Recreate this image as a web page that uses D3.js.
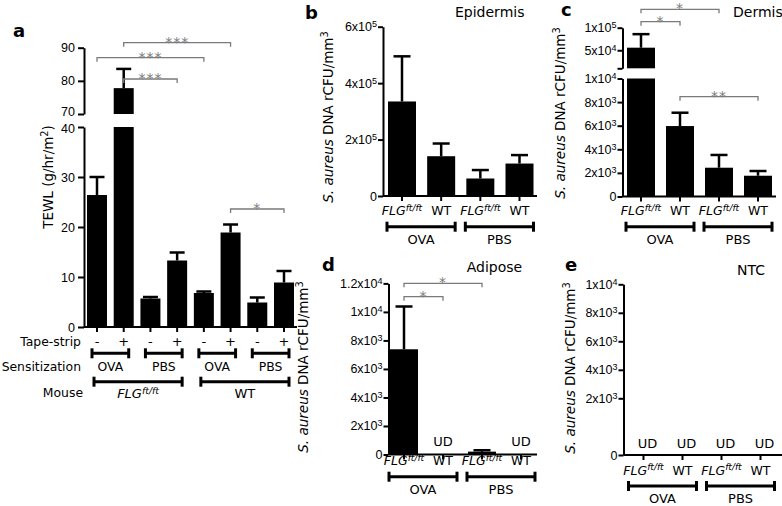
<!DOCTYPE html>
<html lang="en">
<head>
<meta charset="UTF-8">
<title>TEWL and S. aureus DNA</title>
<script src="https://d3js.org/d3.v7.min.js"></script>
<style>
  body { margin: 0; background: #fff; }
  svg { display: block; font-family: "DejaVu Sans", Verdana, sans-serif; }
</style>
</head>
<body>
<svg width="782" height="506"></svg>
<script>
// ---------- data ----------
// panel a : TEWL (g/hr/m2)
var tapeStrip = ["-", "+", "-", "+", "-", "+", "-", "+"];
var sensitization = ["OVA", "PBS", "OVA", "PBS"];
var mouseGroups = ["FLG", "WT"];
var tewlMean = [26.4, 77.8, 5.7, 13.3, 6.8, 18.9, 4.9, 8.9];
var tewlSem = [3.6, 5.8, 0.3, 1.6, 0.3, 1.6, 1.0, 2.3];
var tewlTicksLow = [0, 10, 20, 30, 40];
var tewlTicksHigh = [70, 80, 90];
var tewlSig = [{ a: 1, b: 5, label: "***" }, { a: 0, b: 4, label: "***" },
               { a: 1, b: 3, label: "***" }, { a: 5, b: 7, label: "*" }];

// panels b-e : S. aureus DNA rCFU/mm3
var genotypes = ["FLG", "WT", "FLG", "WT"];
var treatments = ["OVA", "PBS"];
var epidermisMean = [3.35e5, 1.41e5, 0.62e5, 1.15e5];
var epidermisSem = [1.6e5, 0.45e5, 0.3e5, 0.3e5];
var epidermisTicks = [0, 2e5, 4e5, 6e5];
var dermisMean = [5.57e4, 5.97e3, 2.44e3, 1.76e3];
var dermisSem = [3.0e4, 1.13e3, 1.08e3, 0.4e3];
var dermisTicksLow = [0, 2e3, 4e3, 6e3, 8e3, 1e4];
var dermisTicksHigh = [1e4, 5e4, 1e5];
var dermisSig = [{ a: 0, b: 2, label: "*" }, { a: 0, b: 1, label: "*" }, { a: 1, b: 3, label: "**" }];
var adiposeMean = [7.38e3, null, 200, null];   // null = UD
var adiposeSem = [3.0e3, null, 100, null];
var adiposeTicks = [0, 2e3, 4e3, 6e3, 8e3, 1e4, 1.2e4];
var adiposeSig = [{ a: 0, b: 2, label: "*" }, { a: 0, b: 1, label: "*" }];
var ntcMean = [null, null, null, null];
var ntcSem = [null, null, null, null];
var ntcTicks = [0, 2e3, 4e3, 6e3, 8e3, 1e4];

// ---------- helpers ----------
var svg = d3.select("svg");
var sigColor = "#7a7a7a";

function sciTicks(sel, hide) {
  sel.selectAll(".tick text").each(function (d) {
    var t = d3.select(this).text("");
    if (hide && hide.indexOf(d) >= 0) return;
    if (d === 0) { t.text("0"); return; }
    var e = Math.floor(Math.log10(d) + 1e-9);
    var m = +(d / Math.pow(10, e)).toFixed(1);
    t.append("tspan").text(m + "x10");
    t.append("tspan").attr("dy", "-0.45em").attr("font-size", "0.72em").text(e);
  });
}

function styleAxis(sel, fs) {
  sel.selectAll(".domain").attr("stroke", "#000").attr("stroke-width", 2);
  sel.selectAll(".tick line").attr("stroke", "#000").attr("stroke-width", 2);
  sel.selectAll(".tick text").attr("fill", "#000").attr("font-size", fs);
}

function genoLabel(t, name) {
  if (name === "FLG") {
    t.append("tspan").attr("font-style", "italic").text("FLG");
    t.append("tspan").attr("font-style", "italic").attr("font-size", "0.72em")
      .attr("dy", "-0.45em").text("ft/ft");
  } else {
    t.text(name);
  }
}

function groupBracket(g, x1, x2, y) {
  g.append("line").attr("x1", x1).attr("x2", x2).attr("y1", y).attr("y2", y)
    .attr("stroke", "#000").attr("stroke-width", 3);
  [x1, x2].forEach(function (x) {
    g.append("line").attr("x1", x).attr("x2", x).attr("y1", y - 5).attr("y2", y + 5)
      .attr("stroke", "#000").attr("stroke-width", 3);
  });
}

function sigBracket(g, x1, x2, y, label) {
  g.append("path")
    .attr("d", "M" + x1 + "," + (y + 4) + "V" + y + "H" + x2 + "V" + (y + 4))
    .attr("fill", "none").attr("stroke", sigColor).attr("stroke-width", 1.3);
  g.append("text").attr("x", (x1 + x2) / 2).attr("y", y + 4)
    .attr("text-anchor", "middle").attr("font-size", 14).attr("letter-spacing", 1)
    .attr("fill", sigColor).text(label);
}

function yLabel(g, x, y, size) {
  var t = g.append("text").attr("transform", "translate(" + x + "," + y + ") rotate(-90)")
    .attr("text-anchor", "middle").attr("dy", "0.35em").attr("font-size", size);
  t.append("tspan").attr("font-style", "italic").text("S. aureus");
  t.append("tspan").text(" DNA rCFU/mm");
  t.append("tspan").attr("font-size", "0.72em").attr("dy", "-0.5em").text("3");
}

// bars + upward error bars, optional broken axis (yHi above cut)
function drawBars(g, x, yLo, yHi, cut, mean, sem, bw, capW) {
  function yOf(v) { return (yHi && v > cut) ? yHi(v) : yLo(v); }
  mean.forEach(function (m, i) {
    if (m === null) return;
    var cx = x(i);
    if (yHi && m > cut) {
      g.append("rect").attr("x", cx - bw / 2).attr("width", bw)
        .attr("y", yLo(cut)).attr("height", yLo(0) - yLo(cut));
      g.append("rect").attr("x", cx - bw / 2).attr("width", bw)
        .attr("y", yHi(m)).attr("height", yHi.range()[0] - yHi(m));
    } else {
      g.append("rect").attr("x", cx - bw / 2).attr("width", bw)
        .attr("y", yLo(m)).attr("height", yLo(0) - yLo(m));
    }
    var top = yOf(m + sem[i]);
    g.append("line").attr("x1", cx).attr("x2", cx).attr("y1", yOf(m)).attr("y2", top)
      .attr("stroke", "#000").attr("stroke-width", 2.5);
    g.append("line").attr("x1", cx - capW / 2).attr("x2", cx + capW / 2).attr("y1", top).attr("y2", top)
      .attr("stroke", "#000").attr("stroke-width", 2.5);
  });
}

function xAxis(g, x, x0, x1, y, n) {
  g.append("line").attr("x1", x0).attr("x2", x1).attr("y1", y).attr("y2", y)
    .attr("stroke", "#000").attr("stroke-width", 2);
  d3.range(n).forEach(function (i) {
    g.append("line").attr("x1", x(i)).attr("x2", x(i)).attr("y1", y).attr("y2", y + 5)
      .attr("stroke", "#000").attr("stroke-width", 2);
  });
}

// ---------- panel a ----------
(function () {
  var g = svg.append("g");
  var x = d3.scalePoint().domain(d3.range(8)).range([97, 284]);
  var yLo = d3.scaleLinear().domain([0, 40]).range([327, 127]);
  var yHi = d3.scaleLinear().domain([70, 90]).range([114, 47.7]);

  var axLo = g.append("g").attr("transform", "translate(84,0)")
    .call(d3.axisLeft(yLo).tickValues(tewlTicksLow).tickSize(6).tickSizeOuter(0).tickPadding(3));
  var axHi = g.append("g").attr("transform", "translate(84,0)")
    .call(d3.axisLeft(yHi).tickValues(tewlTicksHigh).tickSize(6).tickSizeOuter(0).tickPadding(3));
  styleAxis(axLo, 12.5); styleAxis(axHi, 12.5);
  // labels at the axis break are pushed apart a little so they don't collide
  axLo.selectAll(".tick text").filter(function (d) { return d === 40; }).attr("dy", "0.45em");
  axHi.selectAll(".tick text").filter(function (d) { return d === 70; }).attr("dy", "0.15em");

  drawBars(g.append("g"), x, yLo, yHi, 40, tewlMean, tewlSem, 20, 15);
  xAxis(g, x, 84, 297, 327, 8);

  var sigY = [42.7, 57.7, 79, 209];
  tewlSig.forEach(function (s, i) { sigBracket(g, x(s.a), x(s.b), sigY[i], s.label); });

  g.append("text").attr("x", 13).attr("y", 37).attr("font-size", 18).attr("font-weight", "bold").text("a");

  var t = g.append("text").attr("transform", "translate(48,177) rotate(-90)")
    .attr("text-anchor", "middle").attr("dy", "0.35em").attr("font-size", 13.5);
  t.append("tspan").text("TEWL (g/hr/m");
  t.append("tspan").attr("font-size", "0.72em").attr("dy", "-0.5em").text("2");
  t.append("tspan").attr("dy", "0.36em").text(")");

  var fs = 12.4;
  g.append("text").attr("x", 81).attr("y", 346).attr("text-anchor", "end").attr("font-size", fs).text("Tape-strip");
  g.append("text").attr("x", 81).attr("y", 371).attr("text-anchor", "end").attr("font-size", fs).text("Sensitization");
  g.append("text").attr("x", 83).attr("y", 397).attr("text-anchor", "end").attr("font-size", fs).text("Mouse");

  tapeStrip.forEach(function (s, i) {
    g.append("text").attr("x", x(i)).attr("y", 346).attr("text-anchor", "middle").attr("font-size", 13).text(s);
  });
  sensitization.forEach(function (s, i) {
    var a = x(2 * i) - 5, b = x(2 * i + 1) + 5;
    groupBracket(g, a, b, 353.3);
    g.append("text").attr("x", (a + b) / 2).attr("y", 371).attr("text-anchor", "middle").attr("font-size", fs).text(s);
  });
  mouseGroups.forEach(function (s, i) {
    var a = x(4 * i) - 3, b = x(4 * i + 3) + 5;
    groupBracket(g, a, b, 381.7);
    var t = g.append("text").attr("x", (a + b) / 2).attr("y", 398).attr("text-anchor", "middle").attr("font-size", 13);
    genoLabel(t, s);
  });
})();

// ---------- panels b-e ----------
function drawPanel(c) {
  var g = svg.append("g");
  var x = d3.scalePoint().domain(d3.range(4)).range(c.centers);
  var axLo = g.append("g").attr("transform", "translate(" + c.x0 + ",0)")
    .call(d3.axisLeft(c.yLo).tickValues(c.ticksLo).tickSize(5).tickSizeOuter(0).tickPadding(1));
  styleAxis(axLo, 12.5); sciTicks(axLo);
  if (c.yHi) {
    var axHi = g.append("g").attr("transform", "translate(" + c.x0 + ",0)")
      .call(d3.axisLeft(c.yHi).tickValues(c.ticksHi).tickSize(5).tickSizeOuter(0).tickPadding(1));
    styleAxis(axHi, 12.5); sciTicks(axHi, [c.cut]);
  }
  drawBars(g.append("g"), x, c.yLo, c.yHi, c.cut, c.mean, c.sem, 28, 17);
  xAxis(g, x, c.x0, c.x1, c.yLo(0), 4);

  c.mean.forEach(function (m, i) {
    if (m === null) {
      g.append("text").attr("x", x(i) + c.udDx).attr("y", c.udY).attr("text-anchor", "middle")
        .attr("font-size", 13).text("UD");
    }
  });

  genotypes.forEach(function (s, i) {
    var t = g.append("text").attr("x", x(i)).attr("y", c.catY).attr("text-anchor", "middle").attr("font-size", 12.5);
    genoLabel(t, s);
  });
  treatments.forEach(function (s, i) {
    var a = x(2 * i) - 15, b = x(2 * i + 1) + 14;
    groupBracket(g, a, b, c.grpY);
    g.append("text").attr("x", (a + b) / 2).attr("y", c.grpY + 17).attr("text-anchor", "middle")
      .attr("font-size", 13).text(s);
  });

  (c.sig || []).forEach(function (s, i) {
    sigBracket(g, x(s.a), x(s.b), c.sigY[i], s.label);
  });

  g.append("text").attr("x", c.letter[0]).attr("y", c.letter[1]).attr("font-size", 18)
    .attr("font-weight", "bold").text(c.letterText);
  g.append("text").attr("x", c.title[0]).attr("y", c.title[1]).attr("font-size", 14).text(c.titleText);
  yLabel(g, c.label[0], c.label[1], 13.5);
}

drawPanel({
  x0: 383, x1: 537, centers: [402, 519.5],
  yLo: d3.scaleLinear().domain([0, 6e5]).range([196, 26.7]), ticksLo: epidermisTicks,
  mean: epidermisMean, sem: epidermisSem,
  catY: 215, grpY: 226.7, udY: 0, udDx: 0,
  letter: [305, 18.5], letterText: "b", title: [455, 16.5], titleText: "Epidermis", label: [328, 117]
});

drawPanel({
  x0: 622.5, x1: 776, centers: [641, 758],
  yLo: d3.scaleLinear().domain([0, 1e4]).range([196.5, 78.5]), ticksLo: dermisTicksLow,
  yHi: d3.scaleLinear().domain([1e4, 1e5]).range([68.3, 27.7]), ticksHi: dermisTicksHigh, cut: 1e4,
  mean: dermisMean, sem: dermisSem, sig: dermisSig, sigY: [9.3, 21.7, 96.7],
  catY: 215, grpY: 226.7, udY: 0, udDx: 0,
  letter: [561, 16], letterText: "c", title: [733, 16.5], titleText: "Dermis", label: [560, 113]
});

drawPanel({
  x0: 388.5, x1: 537, centers: [404, 521],
  yLo: d3.scaleLinear().domain([0, 1.2e4]).range([454.5, 283.4]), ticksLo: adiposeTicks,
  mean: adiposeMean, sem: adiposeSem, sig: adiposeSig, sigY: [283.3, 296.7],
  catY: 465, grpY: 476.7, udY: 446, udDx: 0,
  letter: [322, 270.5], letterText: "d", title: [466.7, 271.5], titleText: "Adipose", label: [303, 367]
});

drawPanel({
  x0: 623.5, x1: 782, centers: [643.5, 760.5],
  yLo: d3.scaleLinear().domain([0, 2e3, 1e4]).range([455, 398.3, 284.3]), ticksLo: ntcTicks,
  mean: ntcMean, sem: ntcSem,
  catY: 474.5, grpY: 486, udY: 448, udDx: 4,
  letter: [565, 270.5], letterText: "e", title: [737, 275], titleText: "NTC", label: [570, 368]
});
</script>
</body>
</html>
